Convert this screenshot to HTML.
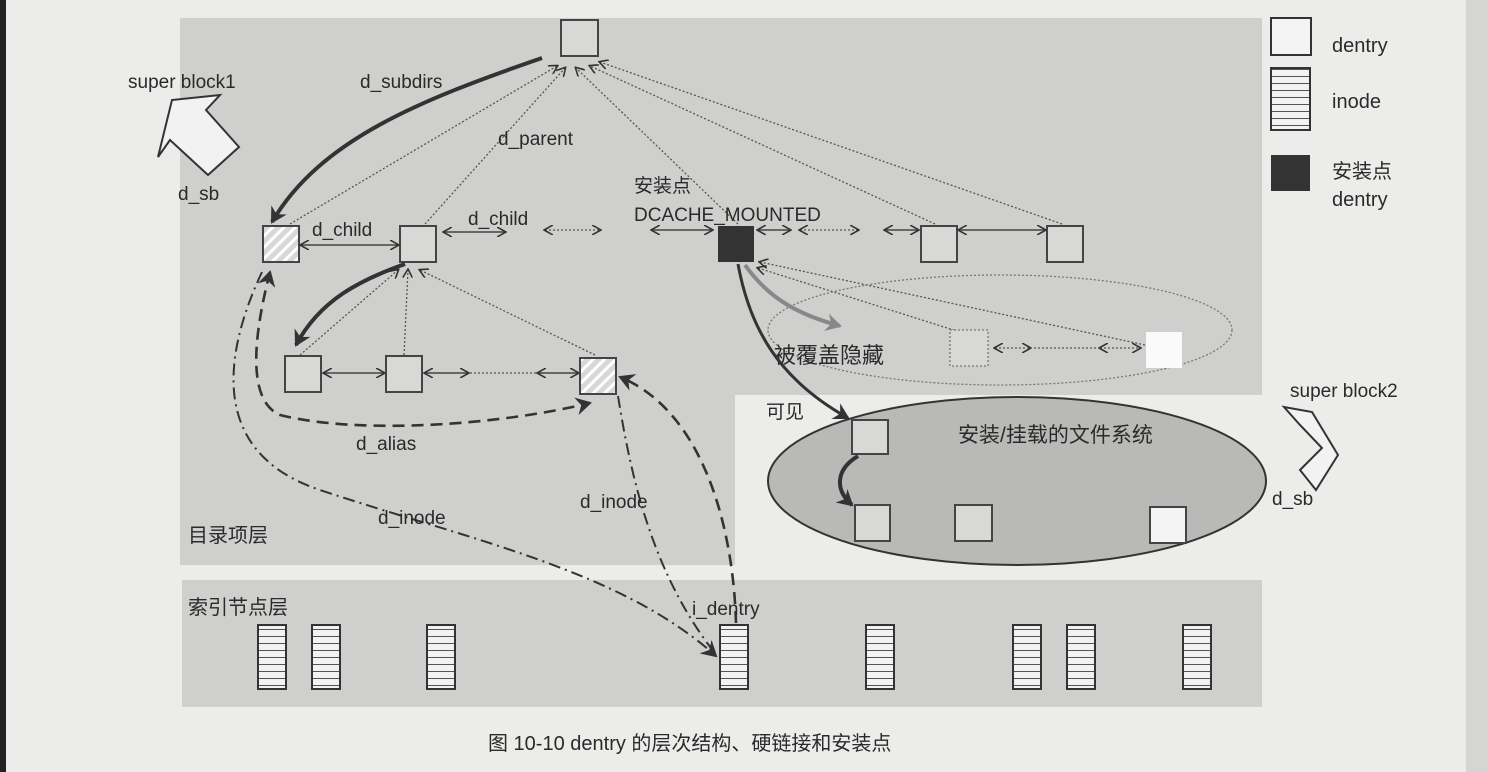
<!DOCTYPE html>
<html><head><meta charset="utf-8"><style>
html,body{margin:0;padding:0;width:1487px;height:772px;overflow:hidden;background:#ececea}
svg{display:block}
text{font-family:"Liberation Sans","Noto Sans CJK SC",sans-serif;fill:#2a2a2a}
</style></head><body>
<svg width="1487" height="772" viewBox="0 0 1487 772" xmlns="http://www.w3.org/2000/svg">
<defs>
<pattern id="hat" width="8" height="8" patternUnits="userSpaceOnUse" patternTransform="rotate(45)">
<rect width="8" height="8" fill="#d8d8d8"/><rect width="3" height="8" fill="#fff"/></pattern>
<pattern id="ino" width="10" height="7" patternUnits="userSpaceOnUse">
<rect width="10" height="7" fill="#f2f2f2"/><rect y="6" width="10" height="1.3" fill="#555"/></pattern>
<marker id="a" markerWidth="10" markerHeight="10" refX="8" refY="5" orient="auto-start-reverse" markerUnits="userSpaceOnUse"><path d="M0,0 L9,5 L0,10" fill="none" stroke="#333" stroke-width="1.6"/></marker>
<marker id="b" markerWidth="18" markerHeight="18" refX="14" refY="9" orient="auto-start-reverse" markerUnits="userSpaceOnUse"><path d="M0,0 L16,9 L0,18 L5,9Z" fill="#333"/></marker>
<marker id="g" markerWidth="18" markerHeight="18" refX="14" refY="9" orient="auto" markerUnits="userSpaceOnUse"><path d="M0,0 L16,9 L0,18 L5,9Z" fill="#888"/></marker>
</defs>
<rect x="0" y="0" width="6" height="772" fill="#222"/>
<rect x="1466" y="0" width="21" height="772" fill="#d5d5d3"/>
<path d="M180,18 H1262 V395 H735 V565 H180Z" fill="#cfcfcd"/>
<rect x="182" y="580" width="1080" height="127" fill="#cfcfcd"/>
<!-- legend -->
<rect x="1271" y="18" width="40" height="37" fill="#f4f4f4" stroke="#333" stroke-width="2"/>
<text x="1332" y="52" font-size="20">dentry</text>
<rect x="1271" y="68" width="39" height="62" fill="url(#ino)" stroke="#333" stroke-width="2"/>
<text x="1332" y="108" font-size="20">inode</text>
<rect x="1271" y="155" width="39" height="36" fill="#333"/>
<text x="1332" y="178" font-size="20">安装点</text>
<text x="1332" y="206" font-size="20">dentry</text>
<!-- super block1 -->
<text x="128" y="88" font-size="19">super block1</text>
<path d="M158,157 L172,100 L220,95 L206,110 L239,147 L208,175 L170,140Z" fill="#f2f2f2" stroke="#333" stroke-width="2"/>
<text x="178" y="200" font-size="19">d_sb</text>
<!-- super block2 -->
<text x="1290" y="397" font-size="19">super block2</text>
<path d="M1284,407 L1312,412 L1338,455 L1316,490 L1300,470 L1322,448 L1300,425Z" fill="#f2f2f2" stroke="#333" stroke-width="2"/>
<text x="1272" y="505" font-size="19">d_sb</text>
<!-- root -->
<rect x="561" y="20" width="37" height="36" fill="#d8d8d6" stroke="#444" stroke-width="2"/>
<path d="M542,58 C420,100 320,140 272,222" fill="none" stroke="#333" stroke-width="4" marker-end="url(#b)"/>
<text x="360" y="88" font-size="19">d_subdirs</text>
<g fill="none" stroke="#555" stroke-width="1.3" stroke-dasharray="2,2" marker-end="url(#a)">
<path d="M290,224 L557,66"/><path d="M425,224 L565,68"/><path d="M738,224 L576,68"/>
<path d="M935,224 L590,66"/><path d="M1062,224 L600,62"/>
<path d="M300,355 L398,270"/><path d="M404,355 L408,270"/><path d="M595,355 L420,270"/>
<path d="M1145,345 L760,262"/><path d="M985,340 L758,268"/>
<path d="M880,505 L873,458"/><path d="M960,505 L878,458"/><path d="M1155,505 L885,455"/>
</g>
<text x="498" y="145" font-size="19">d_parent</text>
<text x="634" y="192" font-size="19">安装点</text>
<text x="634" y="221" font-size="19">DCACHE_MOUNTED</text>
<rect x="263" y="226" width="36" height="36" fill="url(#hat)" stroke="#444" stroke-width="2"/>
<rect x="400" y="226" width="36" height="36" fill="#d8d8d6" stroke="#444" stroke-width="2"/>
<rect x="718" y="226" width="36" height="36" fill="#333"/>
<rect x="921" y="226" width="36" height="36" fill="#d8d8d6" stroke="#444" stroke-width="2"/>
<rect x="1047" y="226" width="36" height="36" fill="#d8d8d6" stroke="#444" stroke-width="2"/>
<g fill="none" stroke="#444" stroke-width="1.5" marker-start="url(#a)" marker-end="url(#a)">
<path d="M301,245 H398"/><path d="M444,232 H505"/><path d="M652,230 H712"/>
<path d="M758,230 H790"/><path d="M885,230 H918"/><path d="M959,230 H1045"/>
<path d="M324,373 H384"/><path d="M425,373 H468"/><path d="M538,373 H578"/>
<path d="M858,520 H953"/><path d="M1150,520 H1125"/><path d="M995,520 H1035"/>
</g>
<g fill="none" stroke="#555" stroke-width="1.3" stroke-dasharray="2,2" marker-start="url(#a)" marker-end="url(#a)">
<path d="M545,230 H600"/><path d="M800,230 H858"/><path d="M995,348 H1030"/><path d="M1100,348 H1140"/>
</g>
<path d="M470,373 H538" stroke="#555" stroke-width="1.3" stroke-dasharray="2,2"/>
<path d="M1035,520 H1125" stroke="#333" stroke-width="2.5" stroke-dasharray="8,6"/>
<path d="M1030,348 H1100" stroke="#555" stroke-width="1.3" stroke-dasharray="2,2"/>
<text x="312" y="236" font-size="19">d_child</text>
<text x="468" y="225" font-size="19">d_child</text>
<path d="M405,264 C360,280 320,300 296,345" fill="none" stroke="#333" stroke-width="4" marker-end="url(#b)"/>
<rect x="285" y="356" width="36" height="36" fill="#d8d8d6" stroke="#444" stroke-width="2"/>
<rect x="386" y="356" width="36" height="36" fill="#d8d8d6" stroke="#444" stroke-width="2"/>
<rect x="580" y="358" width="36" height="36" fill="url(#hat)" stroke="#444" stroke-width="2"/>
<path d="M270,272 C255,330 245,400 280,415 C360,435 500,425 590,403" fill="none" stroke="#333" stroke-width="2.6" stroke-dasharray="12,7" marker-start="url(#b)" marker-end="url(#b)"/>
<text x="356" y="450" font-size="19">d_alias</text>
<path d="M262,272 C230,340 200,450 320,490 C470,540 620,570 716,656" fill="none" stroke="#333" stroke-width="2" stroke-dasharray="12,5,2,5" marker-end="url(#b)"/>
<text x="378" y="524" font-size="19">d_inode</text>
<path d="M618,396 C630,470 650,570 714,652" fill="none" stroke="#333" stroke-width="2" stroke-dasharray="12,5,2,5"/>
<text x="580" y="508" font-size="19">d_inode</text>
<path d="M736,623 C733,520 700,410 620,377" fill="none" stroke="#333" stroke-width="2.6" stroke-dasharray="12,7" marker-end="url(#b)"/>
<text x="692" y="615" font-size="19">i_dentry</text>
<text x="188" y="542" font-size="20">目录项层</text>
<text x="188" y="614" font-size="20">索引节点层</text>
<ellipse cx="1000" cy="330" rx="232" ry="55" fill="none" stroke="#777" stroke-width="1.3" stroke-dasharray="2,2"/>
<path d="M745,265 C770,300 800,315 840,326" fill="none" stroke="#888" stroke-width="4" marker-end="url(#g)"/>
<rect x="950" y="330" width="38" height="36" fill="#d8d8d6" stroke="#777" stroke-width="1.3" stroke-dasharray="2,2"/>
<rect x="1146" y="332" width="36" height="36" fill="#fafafa"/>
<text x="774" y="363" font-size="22" fill="#444">被覆盖隐藏</text>
<!-- mounted fs -->
<ellipse cx="1017" cy="481" rx="249" ry="84" fill="#b9b9b7" stroke="#333" stroke-width="2"/>
<path d="M738,264 C750,330 780,380 848,418" fill="none" stroke="#333" stroke-width="3" marker-end="url(#b)"/>
<text x="766" y="418" font-size="19">可见</text>
<text x="958" y="442" font-size="21">安装/挂载的文件系统</text>
<rect x="852" y="420" width="36" height="34" fill="#d8d8d6" stroke="#444" stroke-width="2"/>
<path d="M858,456 C835,470 835,490 852,505" fill="none" stroke="#333" stroke-width="4" marker-end="url(#b)"/>
<rect x="855" y="505" width="35" height="36" fill="#d8d8d6" stroke="#444" stroke-width="2"/>
<rect x="955" y="505" width="37" height="36" fill="#d8d8d6" stroke="#444" stroke-width="2"/>
<rect x="1150" y="507" width="36" height="36" fill="#f4f4f4" stroke="#444" stroke-width="2"/>
<g fill="url(#ino)" stroke="#333" stroke-width="2">
<rect x="258" y="625" width="28" height="64"/><rect x="312" y="625" width="28" height="64"/>
<rect x="427" y="625" width="28" height="64"/><rect x="720" y="625" width="28" height="64"/>
<rect x="866" y="625" width="28" height="64"/><rect x="1013" y="625" width="28" height="64"/>
<rect x="1067" y="625" width="28" height="64"/><rect x="1183" y="625" width="28" height="64"/>
</g>
<text x="488" y="750" font-size="20">图 10-10    dentry 的层次结构、硬链接和安装点</text>
</svg>
</body></html>
